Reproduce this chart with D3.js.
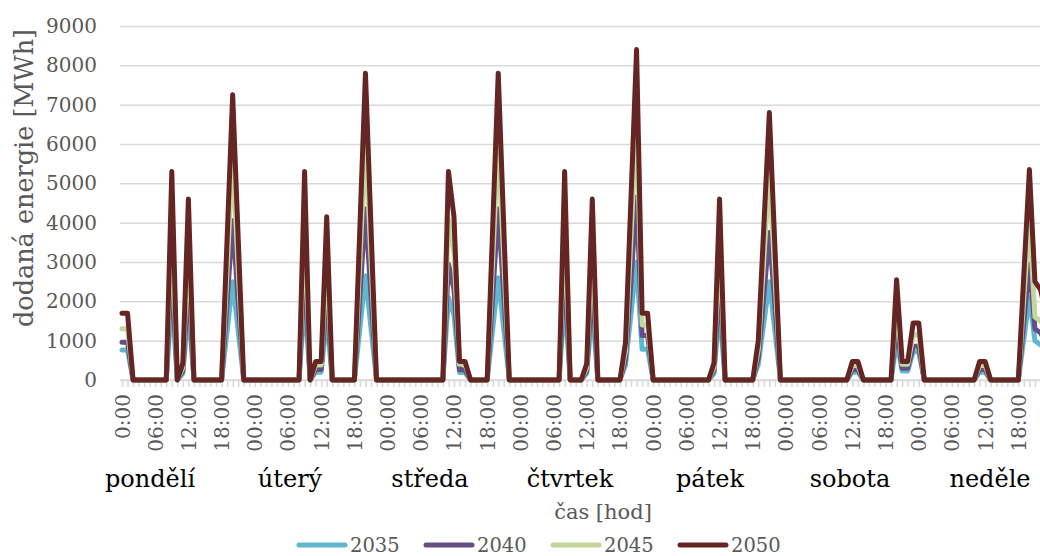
<!DOCTYPE html>
<html>
<head>
<meta charset="utf-8">
<script src="https://cdn.jsdelivr.net/npm/d3@7"></script>
<style>
  body { margin: 0; background: #fff; }
  text { font-family: 'DejaVu Serif', serif; }
</style>
</head>
<body>
<div id="chart"></div>
<script>
// Days of the week (label row under the axis)
const days = ['pondělí', 'úterý', 'středa', 'čtvrtek', 'pátek', 'sobota', 'neděle'];

// Rotated hour labels, one every 6 hours
const hourTicks = [
  '0:00', '06:00', '12:00', '18:00',
  '00:00', '06:00', '12:00', '18:00',
  '00:00', '06:00', '12:00', '18:00',
  '00:00', '06:00', '12:00', '18:00',
  '00:00', '06:00', '12:00', '18:00',
  '00:00', '06:00', '12:00', '18:00',
  '00:00', '06:00', '12:00', '18:00',
];

const yTicks = [0, 1000, 2000, 3000, 4000, 5000, 6000, 7000, 8000, 9000];

const years = ['2035', '2040', '2045', '2050'];

// Hourly delivered energy [MWh], Monday 0:00 .. Sunday 23:00
const s2035 = [
  760, 760, 0, 0, 0, 0, 0, 0, 0, 2100, 0, 170, 1850, 0, 0, 0, 0, 0, 0, 1250, 2500, 1250, 0, 0,
  0, 0, 0, 0, 0, 0, 0, 0, 0, 2100, 0, 200, 200, 1650, 0, 0, 0, 0, 0, 1320, 2650, 1320, 0, 0,
  0, 0, 0, 0, 0, 0, 0, 0, 0, 0, 0, 2100, 1650, 190, 190, 0, 0, 0, 0, 1300, 2600, 1300, 0, 0,
  0, 0, 0, 0, 0, 0, 0, 0, 2100, 0, 0, 0, 170, 1850, 0, 0, 0, 0, 0, 380, 1700, 3000, 780, 780,
  0, 0, 0, 0, 0, 0, 0, 0, 0, 0, 0, 170, 1850, 0, 0, 0, 0, 0, 0, 400, 1450, 2500, 1250, 0,
  0, 0, 0, 0, 0, 0, 0, 0, 0, 0, 0, 0, 200, 200, 0, 0, 0, 0, 0, 0, 1000, 230, 230, 720,
  720, 0, 0, 0, 0, 0, 0, 0, 0, 0, 0, 200, 200, 0, 0, 0, 0, 0, 0, 1050, 2100, 1000, 900, 760,
];
const s2040 = [
  960, 960, 0, 0, 0, 0, 0, 0, 0, 2950, 0, 230, 2550, 0, 0, 0, 0, 0, 0, 2000, 4050, 2000, 0, 0,
  0, 0, 0, 0, 0, 0, 0, 0, 0, 2950, 0, 270, 270, 2300, 0, 0, 0, 0, 0, 2150, 4350, 2150, 0, 0,
  0, 0, 0, 0, 0, 0, 0, 0, 0, 0, 0, 2950, 2300, 260, 260, 0, 0, 0, 0, 2150, 4350, 2150, 0, 0,
  0, 0, 0, 0, 0, 0, 0, 0, 2950, 0, 0, 0, 230, 2550, 0, 0, 0, 0, 0, 520, 2550, 4650, 1130, 1130,
  0, 0, 0, 0, 0, 0, 0, 0, 0, 0, 0, 240, 2550, 0, 0, 0, 0, 0, 0, 550, 2150, 3750, 1900, 0,
  0, 0, 0, 0, 0, 0, 0, 0, 0, 0, 0, 0, 270, 270, 0, 0, 0, 0, 0, 0, 1450, 300, 300, 860,
  860, 0, 0, 0, 0, 0, 0, 0, 0, 0, 0, 270, 270, 0, 0, 0, 0, 0, 0, 1500, 2950, 1300, 1200, 960,
];
const s2045 = [
  1300, 1300, 0, 0, 0, 0, 0, 0, 0, 4100, 0, 320, 3600, 0, 0, 0, 0, 0, 0, 2800, 5750, 2800, 0, 0,
  0, 0, 0, 0, 0, 0, 0, 0, 0, 4100, 0, 380, 380, 3200, 0, 0, 0, 0, 0, 3050, 6150, 3050, 0, 0,
  0, 0, 0, 0, 0, 0, 0, 0, 0, 0, 0, 4100, 3200, 400, 400, 0, 0, 0, 0, 3050, 6150, 3050, 0, 0,
  0, 0, 0, 0, 0, 0, 0, 0, 4100, 0, 0, 0, 320, 3600, 0, 0, 0, 0, 0, 740, 3650, 6700, 1400, 1400,
  0, 0, 0, 0, 0, 0, 0, 0, 0, 0, 0, 330, 3600, 0, 0, 0, 0, 0, 0, 780, 3050, 5350, 2650, 0,
  0, 0, 0, 0, 0, 0, 0, 0, 0, 0, 0, 0, 370, 370, 0, 0, 0, 0, 0, 0, 2000, 400, 400, 1150,
  1150, 0, 0, 0, 0, 0, 0, 0, 0, 0, 0, 370, 370, 0, 0, 0, 0, 0, 0, 2100, 4150, 1600, 1500, 1300,
];
const s2050 = [
  1700, 1700, 0, 0, 0, 0, 0, 0, 0, 5300, 0, 420, 4600, 0, 0, 0, 0, 0, 0, 3600, 7250, 3600, 0, 0,
  0, 0, 0, 0, 0, 0, 0, 0, 0, 5300, 0, 470, 470, 4150, 0, 0, 0, 0, 0, 3900, 7800, 3900, 0, 0,
  0, 0, 0, 0, 0, 0, 0, 0, 0, 0, 0, 5300, 4150, 470, 470, 0, 0, 0, 0, 3900, 7800, 3900, 0, 0,
  0, 0, 0, 0, 0, 0, 0, 0, 5300, 0, 0, 0, 420, 4600, 0, 0, 0, 0, 0, 950, 4650, 8400, 1700, 1700,
  0, 0, 0, 0, 0, 0, 0, 0, 0, 0, 0, 430, 4600, 0, 0, 0, 0, 0, 0, 1000, 3900, 6800, 3400, 0,
  0, 0, 0, 0, 0, 0, 0, 0, 0, 0, 0, 0, 470, 470, 0, 0, 0, 0, 0, 0, 2550, 470, 470, 1450,
  1450, 0, 0, 0, 0, 0, 0, 0, 0, 0, 0, 470, 470, 0, 0, 0, 0, 0, 0, 2700, 5350, 2500, 2300, 1700,
];

const seriesValues = [s2035, s2040, s2045, s2050];
const colors = ['#5fb8cd', '#654d86', '#c3d69b', '#652523'];

const W = 1040;
const H = 556;
const textGrey = '#595959';
const gridGrey = '#d9d9d9';

const svg = d3.select('#chart')
  .append('svg')
  .attr('width', W)
  .attr('height', H);

// Scales (the plot runs past the right edge, as in the original crop)
const hours = d3.range(s2050.length);
const x = d3.scaleLinear().domain([0, hours.length - 1]).range([122, 1046]);
const y = d3.scaleLinear().domain([0, 9000]).range([380, 26]);

// Y axis with gridlines
const yAxis = svg.append('g')
  .attr('transform', 'translate(120,0)')
  .call(d3.axisLeft(y).tickValues(yTicks).tickSize(-940).tickPadding(23)
    .tickFormat(d3.format('d')));
yAxis.select('.domain').remove();
yAxis.selectAll('.tick line')
  .attr('stroke', gridGrey)
  .attr('stroke-width', 1.5);
yAxis.selectAll('.tick text')
  .attr('fill', textGrey)
  .style('font-size', '20px');

// X axis: a small tick for every hour
const xMinor = svg.append('g')
  .attr('transform', 'translate(0,380)')
  .call(d3.axisBottom(x).tickValues(hours).tickSize(7).tickFormat(''));
xMinor.select('.domain')
  .attr('stroke', gridGrey)
  .attr('stroke-width', 1.5)
  .attr('d', 'M120,0H1046');
xMinor.selectAll('.tick line')
  .attr('stroke', gridGrey)
  .attr('stroke-width', 1.5);

// X axis labels, every 6 hours, rotated
const labelHours = hours.filter(h => h % 6 === 0);
const xLabels = svg.append('g')
  .attr('transform', 'translate(0,380)')
  .call(d3.axisBottom(x).tickValues(labelHours).tickSize(0)
    .tickFormat((d, i) => hourTicks[i]));
xLabels.select('.domain').remove();
xLabels.selectAll('.tick text')
  .attr('transform', 'rotate(-90)')
  .attr('x', -14)
  .attr('y', 0)
  .attr('dy', '0.35em')
  .attr('text-anchor', 'end')
  .attr('fill', textGrey)
  .style('font-size', '20px');

// Series lines
const line = d3.line()
  .x((d, i) => x(i))
  .y(d => y(d));

svg.append('g')
  .selectAll('path')
  .data(seriesValues)
  .enter()
  .append('path')
  .attr('d', line)
  .attr('fill', 'none')
  .attr('stroke', (d, i) => colors[i])
  .attr('stroke-width', 5)
  .attr('stroke-linejoin', 'round')
  .attr('stroke-linecap', 'round');

// Day names
const dayX = d3.scalePoint().domain(days).range([150, 990]);
svg.append('g')
  .selectAll('text')
  .data(days)
  .enter()
  .append('text')
  .attr('x', d => dayX(d))
  .attr('y', 487)
  .attr('text-anchor', 'middle')
  .attr('fill', '#000')
  .style('font-size', '24px')
  .text(d => d);

// Axis titles
svg.append('text')
  .attr('x', 603)
  .attr('y', 519)
  .attr('text-anchor', 'middle')
  .attr('fill', textGrey)
  .style('font-size', '21px')
  .text('čas [hod]');

svg.append('text')
  .attr('transform', 'translate(24,178) rotate(-90)')
  .attr('text-anchor', 'middle')
  .attr('dy', '0.35em')
  .attr('fill', textGrey)
  .style('font-size', '25.5px')
  .text('dodaná energie [MWh]');

// Legend
const legend = svg.append('g')
  .selectAll('g')
  .data(years)
  .enter()
  .append('g')
  .attr('transform', (d, i) => `translate(${297 + i * 127},545)`);

legend.append('line')
  .attr('x1', 2)
  .attr('x2', 48)
  .attr('stroke', (d, i) => colors[i])
  .attr('stroke-width', 5)
  .attr('stroke-linecap', 'round');

legend.append('text')
  .attr('x', 53)
  .attr('dy', '0.35em')
  .attr('fill', textGrey)
  .style('font-size', '19.5px')
  .text(d => d);
</script>
</body>
</html>
